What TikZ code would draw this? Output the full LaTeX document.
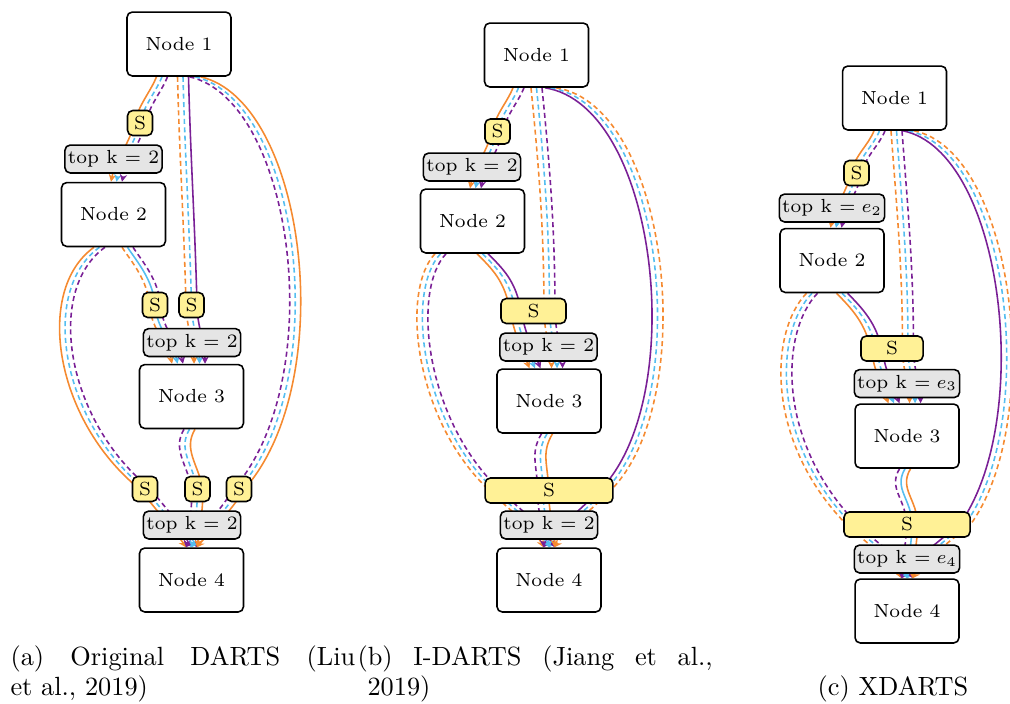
\documentclass[tikz,border=0pt]{standalone}
\usetikzlibrary{calc,arrows.meta}
\pgfdeclarelayer{wires}
\pgfsetlayers{wires,main}
\definecolor{opA}{RGB}{245,138,48}
\definecolor{opB}{RGB}{85,190,240}
\definecolor{opC}{RGB}{122,32,150}
\definecolor{pickfill}{RGB}{255,241,150}
\definecolor{topkfill}{RGB}{229,229,229}
\tikzset{
  cell/.style={draw, fill=white, rounded corners=2pt, line width=0.6pt, minimum width=39.5pt, minimum height=24.3pt, font=\fontsize{7.2}{8}\selectfont},
  pick/.style={draw, fill=pickfill, rounded corners=2pt, line width=0.6pt, minimum width=9.5pt, minimum height=9.5pt, inner sep=0pt, font=\fontsize{7.2}{8}\selectfont},
  topk/.style={draw, fill=topkfill, rounded corners=2pt, line width=0.6pt, minimum width=34.2pt, minimum height=10.6pt, inner xsep=1.1pt, inner ysep=1.6pt, font=\fontsize{7.2}{8}\selectfont},
  wire/.style={line width=0.6pt, -{Stealth[length=2.8pt,width=2.8pt]}},
  solidop/.style={solid},
  dashop/.style={dash pattern=on 1.9pt off 1.3pt},
  caption/.style={inner sep=0pt, font=\fontsize{10}{11.4}\selectfont}
}
\begin{document}
\begin{tikzpicture}[x=0.38pt, y=-0.38pt]
\useasboundingbox (0,0) rectangle (1010,703);

% (a) original cell
\node[cell] (a1) at (179,44) {Node 1};
\node[pick] (as12) at (140,123) {S};
\node[topk] (ak2) at (113.5,159) {top k $=$ 2};
\node[cell] (a2) at (113.5,214.5) {Node 2};
\node[pick] (as23) at (155,305) {S};
\node[pick] (as13) at (191.5,305) {S};
\node[topk] (ak3) at (192,342.5) {top k $=$ 2};
\node[cell] (a3) at (191.5,396.5) {Node 3};
\node[pick] (as24) at (145,489) {S};
\node[pick] (as34) at (197.5,489) {S};
\node[pick] (as14) at (239,489) {S};
\node[topk] (ak4) at (192,525) {top k $=$ 2};
\node[cell] (a4) at (191.5,580) {Node 4};

% (b) one S per target node
\node[cell] (b1) at (536.5,55) {Node 1};
\node[pick] (bs12) at (497.5,131.5) {S};
\node[topk] (bk2) at (472,167) {top k $=$ 2};
\node[cell] (b2) at (472.5,221) {Node 2};
\node[pick, minimum width=24.7pt] (bs3) at (533.5,311) {S};
\node[topk] (bk3) at (548.5,347) {top k $=$ 2};
\node[cell] (b3) at (549,401) {Node 3};
\node[pick, minimum width=48.6pt] (bs4) at (549,490.5) {S};
\node[topk] (bk4) at (549,525) {top k $=$ 2};
\node[cell] (b4) at (549,580) {Node 4};

% (c) learned k per node
\node[cell] (c1) at (894.5,98) {Node 1};
\node[pick] (cs12) at (856.5,173) {S};
\node[topk] (ck2) at (832,208) {top k $= e_2$};
\node[cell] (c2) at (832,260.5) {Node 2};
\node[pick, minimum width=23.6pt] (cs3) at (892,348.5) {S};
\node[topk] (ck3) at (907,383.5) {top k $= e_3$};
\node[cell] (c3) at (907,436) {Node 3};
\node[pick, minimum width=47.9pt] (cs4) at (907,524.5) {S};
\node[topk] (ck4) at (907,559) {top k $= e_4$};
\node[cell] (c4) at (907,611) {Node 4};

\begin{pgfonlayer}{wires}
% (a)
\foreach \dx/\col/\ls in {-5.5/opA/solidop,0/opB/dashop,5.5/opC/dashop}
  \draw[wire,\col,\ls] ($(a1.south)+(\dx-17,0)$) .. controls +(-6,15) and +(4,-18) .. ($(as12)+(\dx,0)$)
    .. controls +(-4,18) and +(4,-20) .. ($(a2.north)+(\dx+3,0)$);
\foreach \dx/\col/\ls in {-5.5/opA/dashop,0/opB/dashop,5.5/opC/solidop}
  \draw[wire,\col,\ls] ($(a1.south)+(\dx+4,0)$) .. controls +(2,80) and +(-2,-80) .. ($(as13)+(\dx,0)$)
    .. controls +(0,20) and +(0,-20) .. ($(a3.north)+(\dx+8,0)$);
\foreach \dx/\col/\ls in {-5.5/opA/dashop,0/opB/solidop,5.5/opC/dashop}
  \draw[wire,\col,\ls] ($(a2.south)+(\dx+14,0)$) .. controls +(10,15) and +(-2,-25) .. ($(as23)+(\dx,0)$)
    .. controls +(2,25) and +(-4,-20) .. ($(a3.north)+(\dx-14,0)$);
\foreach \dx/\col/\ls in {-5.5/opA/solidop,0/opB/dashop,5.5/opC/dashop}
  \draw[wire,\col,\ls] ($(a2.south)+(\dx-14,0)$) .. controls +(-60,43) and +(-85,-69) .. ($(as24)+(\dx,0)$)
    .. controls +(20,25) and +(-10,-15) .. ($(a4.north)+(\dx,0)$);
\foreach \dx/\col/\ls in {-5.5/opC/dashop,0/opB/dashop,5.5/opA/solidop}
  \draw[wire,\col,\ls] ($(a1.south)+(\dx+16,0)$) .. controls +(105,24) and +(96,-109) .. ($(as14)+(\dx,0)$)
    .. controls +(-15,25) and +(12,-15) .. ($(a4.north)+(\dx,0)$);
\foreach \dx/\col/\ls in {-5.5/opC/dashop,0/opB/dashop,5.5/opA/solidop}
  \draw[wire,\col,\ls] ($(a3.south)+(\dx-2,0)$) .. controls +(-12,20) and +(-5,-25) .. ($(as34)+(\dx,0)$)
    .. controls +(0,20) and +(3,-20) .. ($(a4.north)+(\dx,0)$);

% (b)
\foreach \dx/\col/\ls in {-5.5/opA/solidop,0/opB/dashop,5.5/opC/dashop}
  \draw[wire,\col,\ls] ($(b1.south)+(\dx-18,0)$) .. controls +(-6,15) and +(4,-18) .. ($(bs12)+(\dx,0)$)
    .. controls +(-4,18) and +(4,-20) .. ($(b2.north)+(\dx+3,0)$);
\foreach \dx/\col/\ls in {-5.5/opA/dashop,0/opB/dashop,5.5/opC/dashop}
  \draw[wire,\col,\ls] ($(b1.south)+(\dx,0)$) .. controls +(8,80) and +(0,-80) .. ($(bs3)+(\dx+16,0)$)
    .. controls +(0,20) and +(0,-15) .. ($(b3.north)+(\dx+8,0)$);
\foreach \dx/\col/\ls in {-5.5/opC/solidop,0/opB/dashop,5.5/opA/dashop}
  \draw[wire,\col,\ls] ($(b1.south)+(\dx+14,0)$) .. controls +(114,18) and +(90,-90) .. ($(bs4)+(\dx+56,0)$)
    .. controls +(-20,20) and +(15,-20) .. ($(b4.north)+(\dx,0)$);
\foreach \dx/\col/\ls in {-5.5/opA/solidop,0/opB/dashop,5.5/opC/solidop}
  \draw[wire,\col,\ls] ($(b2.south)+(\dx+10,0)$) .. controls +(15,15) and +(-5,-30) .. ($(bs3)+(\dx-18,0)$)
    .. controls +(5,25) and +(-8,-20) .. ($(b3.north)+(\dx-14,0)$);
\foreach \dx/\col/\ls in {-5.5/opA/dashop,0/opB/dashop,5.5/opC/dashop}
  \draw[wire,\col,\ls] ($(b2.south)+(\dx-32,0)$) .. controls +(-35,37) and +(-75,-70) .. ($(bs4)+(\dx-54,0)$)
    .. controls +(20,20) and +(-10,-20) .. ($(b4.north)+(\dx,0)$);
\foreach \dx/\col/\ls in {-5.5/opC/dashop,0/opB/dashop,5.5/opA/solidop}
  \draw[wire,\col,\ls] ($(b3.south)+(\dx-2,0)$) .. controls +(-12,20) and +(0,-25) .. ($(bs4)+(\dx-6,0)$)
    .. controls +(0,20) and +(0,-15) .. ($(b4.north)+(\dx,0)$);

% (c)
\foreach \dx/\col/\ls in {-5.5/opA/solidop,0/opB/dashop,5.5/opC/dashop}
  \draw[wire,\col,\ls] ($(c1.south)+(\dx-15,0)$) .. controls +(-6,15) and +(4,-18) .. ($(cs12)+(\dx,0)$)
    .. controls +(-4,18) and +(4,-20) .. ($(c2.north)+(\dx+4,0)$);
\foreach \dx/\col/\ls in {-5.5/opA/dashop,0/opB/dashop,5.5/opC/dashop}
  \draw[wire,\col,\ls] ($(c1.south)+(\dx+2,0)$) .. controls +(6,80) and +(0,-80) .. ($(cs3)+(\dx+16,0)$)
    .. controls +(0,20) and +(0,-15) .. ($(c3.north)+(\dx+8,0)$);
\foreach \dx/\col/\ls in {-5.5/opC/solidop,0/opB/dashop,5.5/opA/dashop}
  \draw[wire,\col,\ls] ($(c1.south)+(\dx+14,0)$) .. controls +(101,21) and +(75,-104) .. ($(cs4)+(\dx+58,0)$)
    .. controls +(-25,20) and +(15,-20) .. ($(c4.north)+(\dx,0)$);
\foreach \dx/\col/\ls in {-5.5/opA/solidop,0/opB/dashop,5.5/opC/solidop}
  \draw[wire,\col,\ls] ($(c2.south)+(\dx+10,0)$) .. controls +(15,15) and +(-5,-25) .. ($(cs3)+(\dx-16,0)$)
    .. controls +(5,25) and +(-8,-20) .. ($(c3.north)+(\dx-13,0)$);
\foreach \dx/\col/\ls in {-5.5/opA/dashop,0/opB/dashop,5.5/opC/dashop}
  \draw[wire,\col,\ls] ($(c2.south)+(\dx-20,0)$) .. controls +(-37,38) and +(-82,-84) .. ($(cs4)+(\dx-55,0)$)
    .. controls +(20,20) and +(-10,-20) .. ($(c4.north)+(\dx,0)$);
\foreach \dx/\col/\ls in {-5.5/opC/dashop,0/opB/solidop,5.5/opA/solidop}
  \draw[wire,\col,\ls] ($(c3.south)+(\dx-2,0)$) .. controls +(-12,20) and +(0,-25) .. ($(cs4)+(\dx+5,0)$)
    .. controls +(0,20) and +(0,-15) .. ($(c4.north)+(\dx,0)$);
\end{pgfonlayer}

% sub-captions
\node[caption, text width=131pt, align=justify, anchor=north west] (capa) at (10,645) {(a) Original DARTS (Liu\linebreak et al., 2019)};
\node[caption, text width=135pt, align=justify, anchor=north west] (capb) at (357,645) {(b) I-DARTS (Jiang et al.,\linebreak \hspace*{3.8pt}2019)};
\node[caption, anchor=base] (capc) at (893,695) {(c) XDARTS};
\end{tikzpicture}
\end{document}
